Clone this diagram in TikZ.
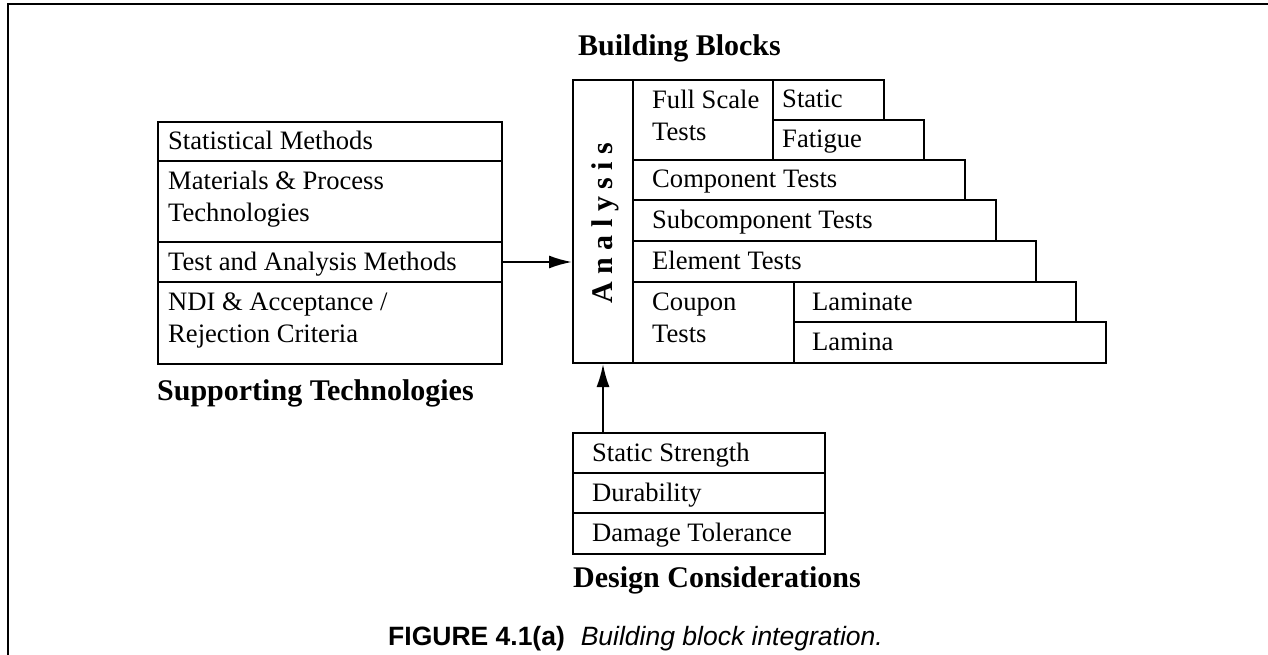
\documentclass[tikz,border=0pt]{standalone}
\usepackage{fontspec}
\setmainfont{Liberation Serif}
\newfontfamily\capfont{Liberation Sans}
\usetikzlibrary{arrows.meta}
\newcommand\bodyfs{\fontsize{26.6}{32}\selectfont}
\newcommand\titlefs{\fontsize{30}{36}\selectfont\bfseries}
\begin{document}
\begin{tikzpicture}[x=1pt,y=-1pt,
  blk/.style={draw,line width=2pt,rectangle,inner sep=0pt,anchor=north west},
  lbl/.style={anchor=base west,inner sep=0pt,font=\bodyfs,align=left},
  ttl/.style={anchor=base west,inner sep=0pt,font=\titlefs},
  arr/.style={line width=2pt,-{Latex[length=23pt,width=13pt]}}]
\useasboundingbox (0,0) rectangle (1268,655);
\draw[line width=2.3pt] (8,655) -- (8,4.3) -- (1268,4.3);
% supporting technologies
\node[blk,minimum width=344pt,minimum height=39pt] (sm) at (157,121) {};
\node[blk,minimum width=344pt,minimum height=81pt] (mp) at (157,160) {};
\node[blk,minimum width=344pt,minimum height=40pt] (tam) at (157,241) {};
\node[blk,minimum width=344pt,minimum height=82pt] (ndi) at (157,281) {};
\node[lbl] (tsm) at (168,149.5) {Statistical Methods};
\node[lbl] (tmp) at (168,221) {Materials \& Process\\Technologies};
\node[lbl] (ttam) at (168,270) {Test and Analysis Methods};
\node[lbl] (tndi) at (168,342) {NDI \& Acceptance /\\Rejection Criteria};
\node[ttl] (st) at (157,400) {Supporting Technologies};
% building blocks
\node[ttl] (bb) at (578,56) {Building Blocks};
\node[blk,minimum width=60pt,minimum height=283pt] (ana) at (572,79) {};
\node[anchor=base,rotate=90,inner sep=0pt,font=\titlefs] (tana) at (612,223) {A n a l y s i s};
\node[blk,minimum width=140pt,minimum height=80pt] (fst) at (632,79) {};
\node[blk,minimum width=111pt,minimum height=40pt] (stat) at (772,79) {};
\node[blk,minimum width=151pt,minimum height=40pt] (fat) at (772,119) {};
\node[blk,minimum width=332pt,minimum height=40pt] (comp) at (632,159) {};
\node[blk,minimum width=363pt,minimum height=41pt] (sub) at (632,199) {};
\node[blk,minimum width=403pt,minimum height=41pt] (elem) at (632,240) {};
\node[blk,minimum width=161pt,minimum height=81pt] (coup) at (632,281) {};
\node[blk,minimum width=282pt,minimum height=40pt] (lmt) at (793,281) {};
\node[blk,minimum width=312pt,minimum height=41pt] (lma) at (793,321) {};
\node[lbl] (tfst) at (652,141) {Full Scale\\Tests};
\node[lbl] (tstat) at (782,108) {Static};
\node[lbl] (tfat) at (782,148) {Fatigue};
\node[lbl] (tcomp) at (652,188) {Component Tests};
\node[lbl] (tsub) at (652,228.5) {Subcomponent Tests};
\node[lbl] (telem) at (652,269.5) {Element Tests};
\node[lbl] (tcoup) at (652,342) {Coupon\\Tests};
\node[lbl] (tlmt) at (812,310) {Laminate};
\node[lbl] (tlma) at (812,350.5) {Lamina};
% design considerations
\node[blk,minimum width=252pt,minimum height=40pt] (ss) at (572,432) {};
\node[blk,minimum width=252pt,minimum height=40pt] (dur) at (572,472) {};
\node[blk,minimum width=252pt,minimum height=41pt] (dt) at (572,512) {};
\node[lbl] (tss) at (592,461) {Static Strength};
\node[lbl] (tdur) at (592,501) {Durability};
\node[lbl] (tdt) at (592,541.5) {Damage Tolerance};
\node[ttl] (dc) at (573,587) {Design Considerations};
% connectors
\draw[arr] (tam.east) -- (ana.west |- tam.east);
\draw[arr] (ana.south |- ss.north) -- (ana.south);
% caption
\node[anchor=base west,inner sep=0pt,font=\capfont\fontsize{26.5}{30}\selectfont] (cap) at (388,645) {\textbf{FIGURE 4.1(a)}\hspace{0.6em}\textit{Building block integration.}};
\end{tikzpicture}
\end{document}
